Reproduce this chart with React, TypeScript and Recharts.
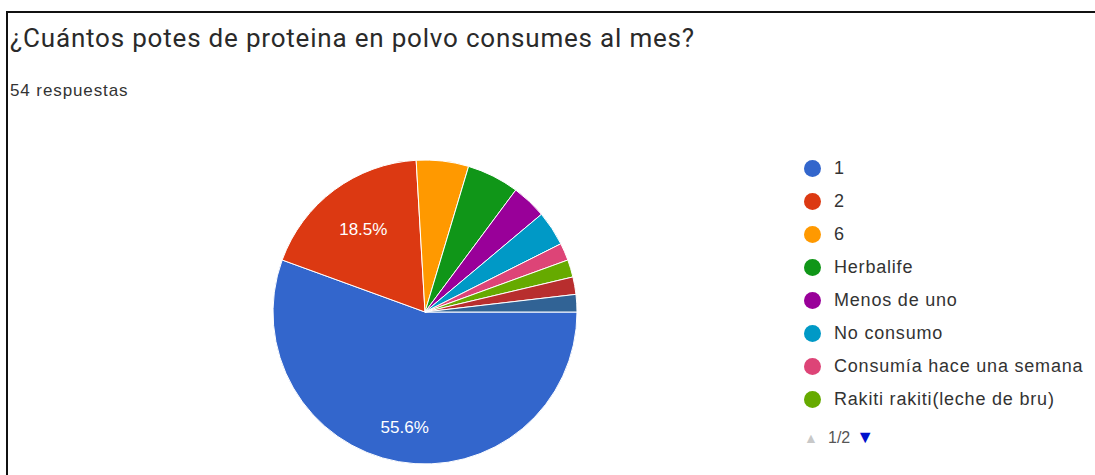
import React from "react";
import { PieChart, Pie, Cell, Legend } from "recharts";

const categories = [
  "1",
  "2",
  "6",
  "Herbalife",
  "Menos de uno",
  "No consumo",
  "Consumía hace una semana",
  "Rakiti rakiti(leche de bru)",
  "3",
  "Otro",
];
const counts = [30, 10, 3, 3, 2, 2, 1, 1, 1, 1];
const COLORS = ["#3366cc", "#dc3912", "#ff9900", "#109618", "#990099", "#0099c6", "#dd4477", "#66aa00", "#b82e2e", "#316395"];

const TITLE = "¿Cuántos potes de proteina en polvo consumes al mes?";
const SUBTITLE = "54 respuestas";
const LEGEND_PAGE_SIZE = 8;

const data = categories.map((name, i) => ({ name, value: counts[i] }));
const total = counts.reduce((a, b) => a + b, 0);

const RAD = Math.PI / 180;

// Google-style inner labels, only on big slices
const renderLabel = (props: any) => {
  const { cx, cy, midAngle, outerRadius, value } = props;
  const pct = value / total;
  if (pct < 0.1) return null;
  const r = outerRadius * (pct > 0.5 ? 0.77 : 0.68);
  const x = cx + r * Math.cos(-midAngle * RAD);
  const y = cy + r * Math.sin(-midAngle * RAD);
  return (
    <text x={x} y={y} fill="#ffffff" textAnchor="middle" dominantBaseline="central" fontSize={17} fontFamily="Arial, sans-serif">
      {(pct * 100).toFixed(1) + "%"}
    </text>
  );
};

const LegendBox = () => (
  <div style={{ fontFamily: "Arial, sans-serif", fontSize: 18, color: "#333", letterSpacing: 0.8 }}>
    {data.slice(0, LEGEND_PAGE_SIZE).map((d, i) => (
      <div key={d.name} style={{ display: "flex", alignItems: "center", height: 33 }}>
        <span style={{ display: "inline-block", width: 17, height: 17, borderRadius: 9, background: COLORS[i], marginRight: 13 }} />
        <span style={{ whiteSpace: "nowrap" }}>{d.name}</span>
      </div>
    ))}
    <div style={{ display: "flex", alignItems: "center", height: 33, marginTop: 5 }}>
      <span style={{ color: "#c8c8c8", fontSize: 14, width: 24 }}>▲</span>
      <span style={{ color: "#555", fontSize: 16, letterSpacing: 0 }}>1/2</span>
      <span style={{ color: "#0011cc", fontSize: 18, marginLeft: 6 }}>▼</span>
    </div>
  </div>
);

export default function App() {
  return (
    <div style={{ position: "absolute", left: 0, top: 0, width: 1095, height: 475, background: "#fff", overflow: "hidden" }}>
      <div style={{ position: "absolute", left: 6, top: 11, width: 1100, height: 480, borderLeft: "2px solid #111", borderTop: "2px solid #111" }} />
      <div style={{ position: "absolute", left: 10, top: 23, fontFamily: "Roboto, Arial, sans-serif", fontSize: 26, color: "#2a2a2a", letterSpacing: 0.8, whiteSpace: "nowrap" }}>
        {TITLE}
      </div>
      <div style={{ position: "absolute", left: 10, top: 81, fontFamily: "Arial, sans-serif", fontSize: 17, color: "#333", letterSpacing: 0.9 }}>
        {SUBTITLE}
      </div>
      <div style={{ position: "absolute", left: 0, top: 0 }}>
        <PieChart width={1095} height={475} margin={{ top: 0, right: 0, bottom: 0, left: 0 }}>
          <Pie
            data={data}
            dataKey="value"
            nameKey="name"
            cx={425}
            cy={312}
            outerRadius={152}
            startAngle={0}
            endAngle={-360}
            stroke="#ffffff"
            strokeWidth={1}
            label={renderLabel}
            labelLine={false}
            isAnimationActive={false}
          >
            {data.map((d, i) => (
              <Cell key={d.name} fill={COLORS[i]} />
            ))}
          </Pie>
          <Legend content={<LegendBox />} wrapperStyle={{ left: 804, top: 152, width: 291 }} />
        </PieChart>
      </div>
    </div>
  );
}
